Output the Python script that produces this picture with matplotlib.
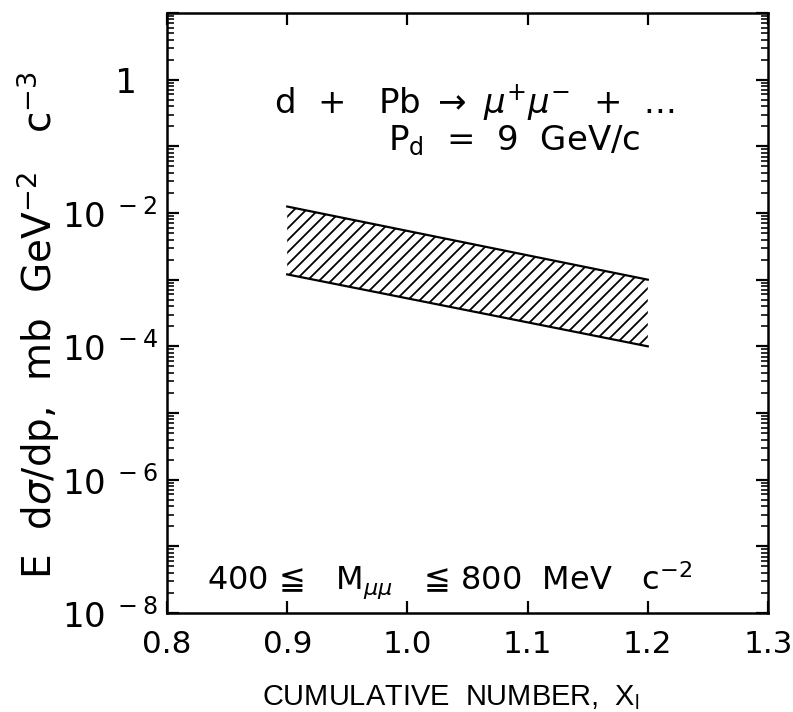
import numpy as np
import matplotlib
matplotlib.use('Agg')
import matplotlib.pyplot as plt
from matplotlib.ticker import FixedLocator, FuncFormatter, LogLocator, NullFormatter

plt.rcParams['font.family'] = ['DejaVu Sans']
plt.rcParams['mathtext.fontset'] = 'dejavusans'
plt.rcParams['hatch.linewidth'] = 1.8

# band of the cross section (log scale), edges at x = 0.9 and 1.2
x_band = [0.9, 1.2]
upper = [1.25e-2, 1.0e-3]
lower = [1.2e-3, 1.0e-4]

x_ticks = [0.8, 0.9, 1.0, 1.1, 1.2, 1.3]
x_labels = ['0.8', '0.9', '1.0', '1.1', '1.2', '1.3']
y_decades = [-8, -7, -6, -5, -4, -3, -2, -1, 0, 1]
y_labels = {-8: r'$10^{\ -8}$', -6: r'$10^{\ -6}$', -4: r'$10^{\ -4}$',
            -2: r'$10^{\ -2}$', 0: '   1'}

fig = plt.figure(figsize=(793 / 72, 712 / 72), dpi=72)
ax = fig.add_axes([167 / 793, 99 / 712, 601 / 793, 600 / 712])

ax.fill_between(x_band, lower, upper, facecolor='none', edgecolor='black',
                hatch='//', linewidth=0)
ax.plot(x_band, upper, color='black', lw=2.2)
ax.plot(x_band, lower, color='black', lw=2.2)

ax.set_yscale('log')
ax.set_xlim(0.8, 1.3)
ax.set_ylim(1e-8, 1e1)

ax.set_xticks(x_ticks)
ax.set_xticklabels(x_labels, fontsize=31)
ax.yaxis.set_major_locator(FixedLocator([10.0 ** d for d in y_decades]))
ax.yaxis.set_major_formatter(FuncFormatter(
    lambda v, p: y_labels.get(int(round(np.log10(v))), '')))
ax.yaxis.set_minor_locator(LogLocator(base=10, subs=np.arange(2, 10), numticks=20))
ax.yaxis.set_minor_formatter(NullFormatter())

ax.tick_params(axis='both', which='major', direction='in', top=True, right=True,
               length=12, width=2.2)
ax.tick_params(axis='y', which='minor', direction='in', right=True,
               length=7, width=1.6)
ax.tick_params(axis='y', which='major', labelsize=34, pad=57)
ax.tick_params(axis='x', which='major', pad=17)
for lab in ax.get_yticklabels():
    lab.set_horizontalalignment('center')

for s in ax.spines.values():
    s.set_linewidth(2.5)

ax.set_ylabel(r'E  d$\sigma$/dp,  mb  GeV$^{-2}$   c$^{-3}$', fontsize=39)
ax.yaxis.set_label_coords(-0.175, 0.48)
ax.set_xlabel(r'CUMULATIVE  NUMBER,  X$_{\mathregular{l}}$', fontsize=29,
              family='Liberation Sans')
ax.xaxis.set_label_coords(0.4725, -0.117)

ax.text(0.178, 0.85, r'd  +   Pb $\rightarrow$ $\mu^{+}\mu^{-}$  +  ...',
        transform=ax.transAxes, fontsize=34, va='center', ha='left')
ax.text(0.368, 0.788, r'P$_{\mathregular{d}}$  =  9  GeV/c',
        transform=ax.transAxes, fontsize=34, va='center', ha='left')
ax.text(0.067, 0.055, r'400 ≦   M$_{\mu\mu}$   ≦ 800  MeV   c$^{-2}$',
        transform=ax.transAxes, fontsize=32, va='center', ha='left')

fig.savefig('out.png', dpi=72)
